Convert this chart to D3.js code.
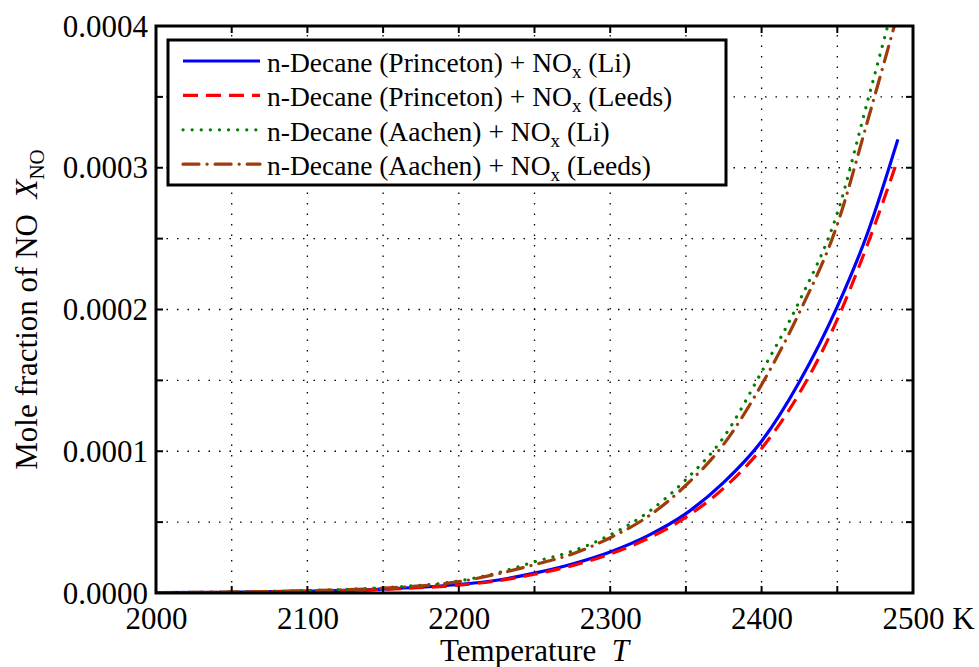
<!DOCTYPE html>
<html><head><meta charset="utf-8">
<script src="https://cdn.jsdelivr.net/npm/d3@7"></script>
<style>
body{margin:0;background:#fff;}
svg text{font-family:"Liberation Serif","Times New Roman",Times,"DejaVu Serif",serif !important;fill:#000;}
</style></head>
<body><svg id="c" width="979" height="667"></svg>
<script>
const temps = [2000,2050,2100,2150,2200,2225,2250,2275,2300,2325,2350,2375,2400,2425,2450,2470,2490];
const princetonLi    = [0.2e-6,0.5e-6,1.3e-6,2.8e-6,6.0e-6,9.0e-6,1.4e-5,2.05e-5,2.9e-5,4.05e-5,5.6e-5,7.8e-5,1.07e-4,1.49e-4,2.02e-4,2.54e-4,3.2e-4];
const princetonLeeds = [0.2e-6,0.5e-6,1.2e-6,2.6e-6,5.6e-6,8.5e-6,1.32e-5,1.93e-5,2.75e-5,3.85e-5,5.35e-5,7.4e-5,1.02e-4,1.41e-4,1.93e-4,2.46e-4,3.06e-4];
const aachenLi       = [0.3e-6,0.8e-6,1.8e-6,3.8e-6,8.5e-6,1.4e-5,2.2e-5,2.95e-5,4.1e-5,5.7e-5,8.0e-5,1.1e-4,1.56e-4,2.06e-4,2.68e-4,3.47e-4,4.27e-4];
const aachenLeeds    = [0.3e-6,0.7e-6,1.6e-6,3.4e-6,8.0e-6,1.33e-5,2.0e-5,2.75e-5,3.9e-5,5.4e-5,7.6e-5,1.05e-4,1.47e-4,1.98e-4,2.6e-4,3.33e-4,4.09e-4];
const seriesNames = ["n-Decane (Princeton) + NO|x| (Li)","n-Decane (Princeton) + NO|x| (Leeds)","n-Decane (Aachen) + NO|x| (Li)","n-Decane (Aachen) + NO|x| (Leeds)"];
const xTickValues = [2000,2100,2200,2300,2400,2500];
const yTickValues = [0,0.0001,0.0002,0.0003,0.0004];

const styles = [
  {color:"#0000ff", dash:null, cap:"butt"},
  {color:"#ff0000", dash:"15,8", cap:"butt"},
  {color:"#008000", dash:"0.1,9", cap:"round"},
  {color:"#9c3d0c", dash:"16,8,0.1,8", cap:"round"}
];
const allSeries = [princetonLi, princetonLeeds, aachenLi, aachenLeeds];

const svg = d3.select("#c");
const L=156, R=913, T=26, B=593;
const x = d3.scaleLinear().domain([2000,2500]).range([L,R]);
const y = d3.scaleLinear().domain([0,0.0004]).range([B,T]);

// grid
const gx = d3.range(2050,2500,50), gy = d3.range(0.00005,0.0004,0.00005);
const grid = svg.append("g").attr("stroke","#000").attr("stroke-width",1.3).attr("stroke-dasharray","1.5,9");
grid.selectAll(".gv").data(gx).join("line").attr("x1",d=>x(d)).attr("x2",d=>x(d)).attr("y1",B).attr("y2",T);
grid.selectAll(".gh").data(gy).join("line").attr("y1",d=>y(d)).attr("y2",d=>y(d)).attr("x1",L).attr("x2",R);

// clip
svg.append("clipPath").attr("id","clip").append("rect").attr("x",L).attr("y",T).attr("width",R-L).attr("height",B-T);

const line = d3.line().x(d=>x(d[0])).y(d=>y(d[1])).curve(d3.curveMonotoneX);
const lines = svg.append("g").attr("clip-path","url(#clip)");
allSeries.forEach((s,i)=>{
  const st = styles[i];
  lines.append("path").datum(temps.map((t,j)=>[t,s[j]]))
    .attr("d",line).attr("fill","none").attr("stroke",st.color).attr("stroke-width",3.2)
    .attr("stroke-linecap",st.cap).attr("stroke-dasharray",st.dash);
});

// axes with inward ticks
const tickV = d3.range(2000,2501,50), tickH = d3.range(0,0.00041,0.00005);
const tk = svg.append("g").attr("stroke","#000").attr("stroke-width",2);
tk.selectAll(".tb").data(tickV).join("line").attr("x1",d=>x(d)).attr("x2",d=>x(d)).attr("y1",B).attr("y2",B-7);
tk.selectAll(".tt").data(tickV).join("line").attr("x1",d=>x(d)).attr("x2",d=>x(d)).attr("y1",T).attr("y2",T+7);
tk.selectAll(".tl").data(tickH).join("line").attr("y1",d=>y(d)).attr("y2",d=>y(d)).attr("x1",L).attr("x2",L+7);
tk.selectAll(".tr").data(tickH).join("line").attr("y1",d=>y(d)).attr("y2",d=>y(d)).attr("x1",R).attr("x2",R-7);

const xAxis = svg.append("g").attr("transform",`translate(0,${B})`)
  .call(d3.axisBottom(x).tickValues(xTickValues).tickSize(0).tickPadding(14).tickFormat(d3.format("d")));
const yAxis = svg.append("g").attr("transform",`translate(${L},0)`)
  .call(d3.axisLeft(y).tickValues(yTickValues).tickSize(0).tickPadding(8).tickFormat(d3.format(".4f")));
[xAxis,yAxis].forEach(a=>{a.attr("font-family",null).attr("font-size",null); a.select(".domain").remove(); a.selectAll("text").style("font-size","31px").attr("fill","#000");});
yAxis.selectAll("text").attr("dy","0.33em");
xAxis.selectAll("text").attr("dy","0.71em");
// "2500 K"
xAxis.selectAll(".tick").filter(d=>d===2500).select("text").each(function(){
  const t=d3.select(this); const w=this.getComputedTextLength();
  t.attr("text-anchor","start").attr("x",-w/2); t.append("tspan").text(" K");
});

// box
svg.append("rect").attr("x",L).attr("y",T).attr("width",R-L).attr("height",B-T)
  .attr("fill","none").attr("stroke","#000").attr("stroke-width",3);

// axis titles
const xl = svg.append("text").attr("x",(L+R)/2).attr("y",661).attr("text-anchor","middle").style("font-size","31px");
xl.append("tspan").text("Temperature\u00a0\u00a0");
xl.append("tspan").attr("font-style","italic").text("T");
const yl = svg.append("text").attr("transform",`translate(37,${(T+B)/2}) rotate(-90)`).attr("text-anchor","middle").style("font-size","31px");
yl.append("tspan").text("Mole fraction of NO\u00a0\u00a0");
yl.append("tspan").attr("font-style","italic").text("X");
yl.append("tspan").attr("dy","7").style("font-size","21px").text("NO");

// legend
const lg = svg.append("g");
lg.append("rect").attr("x",168).attr("y",40).attr("width",558).attr("height",145).attr("fill","#fff").attr("stroke","#000").attr("stroke-width",3);
seriesNames.forEach((name,i)=>{
  const yy = 61 + i*34.4, st = styles[i];
  lg.append("line").attr("x1",183).attr("x2",260).attr("y1",yy).attr("y2",yy)
    .attr("stroke",st.color).attr("stroke-width",3.2).attr("stroke-linecap",st.cap).attr("stroke-dasharray",st.dash);
  const parts = name.split("|");
  const t = lg.append("text").attr("x",267).attr("y",yy+11).style("font-size","27.5px");
  t.append("tspan").text(parts[0]);
  t.append("tspan").attr("dy","6").style("font-size","19px").text(parts[1]);
  t.append("tspan").attr("dy","-6").text(parts[2]);
});
</script></body></html>
